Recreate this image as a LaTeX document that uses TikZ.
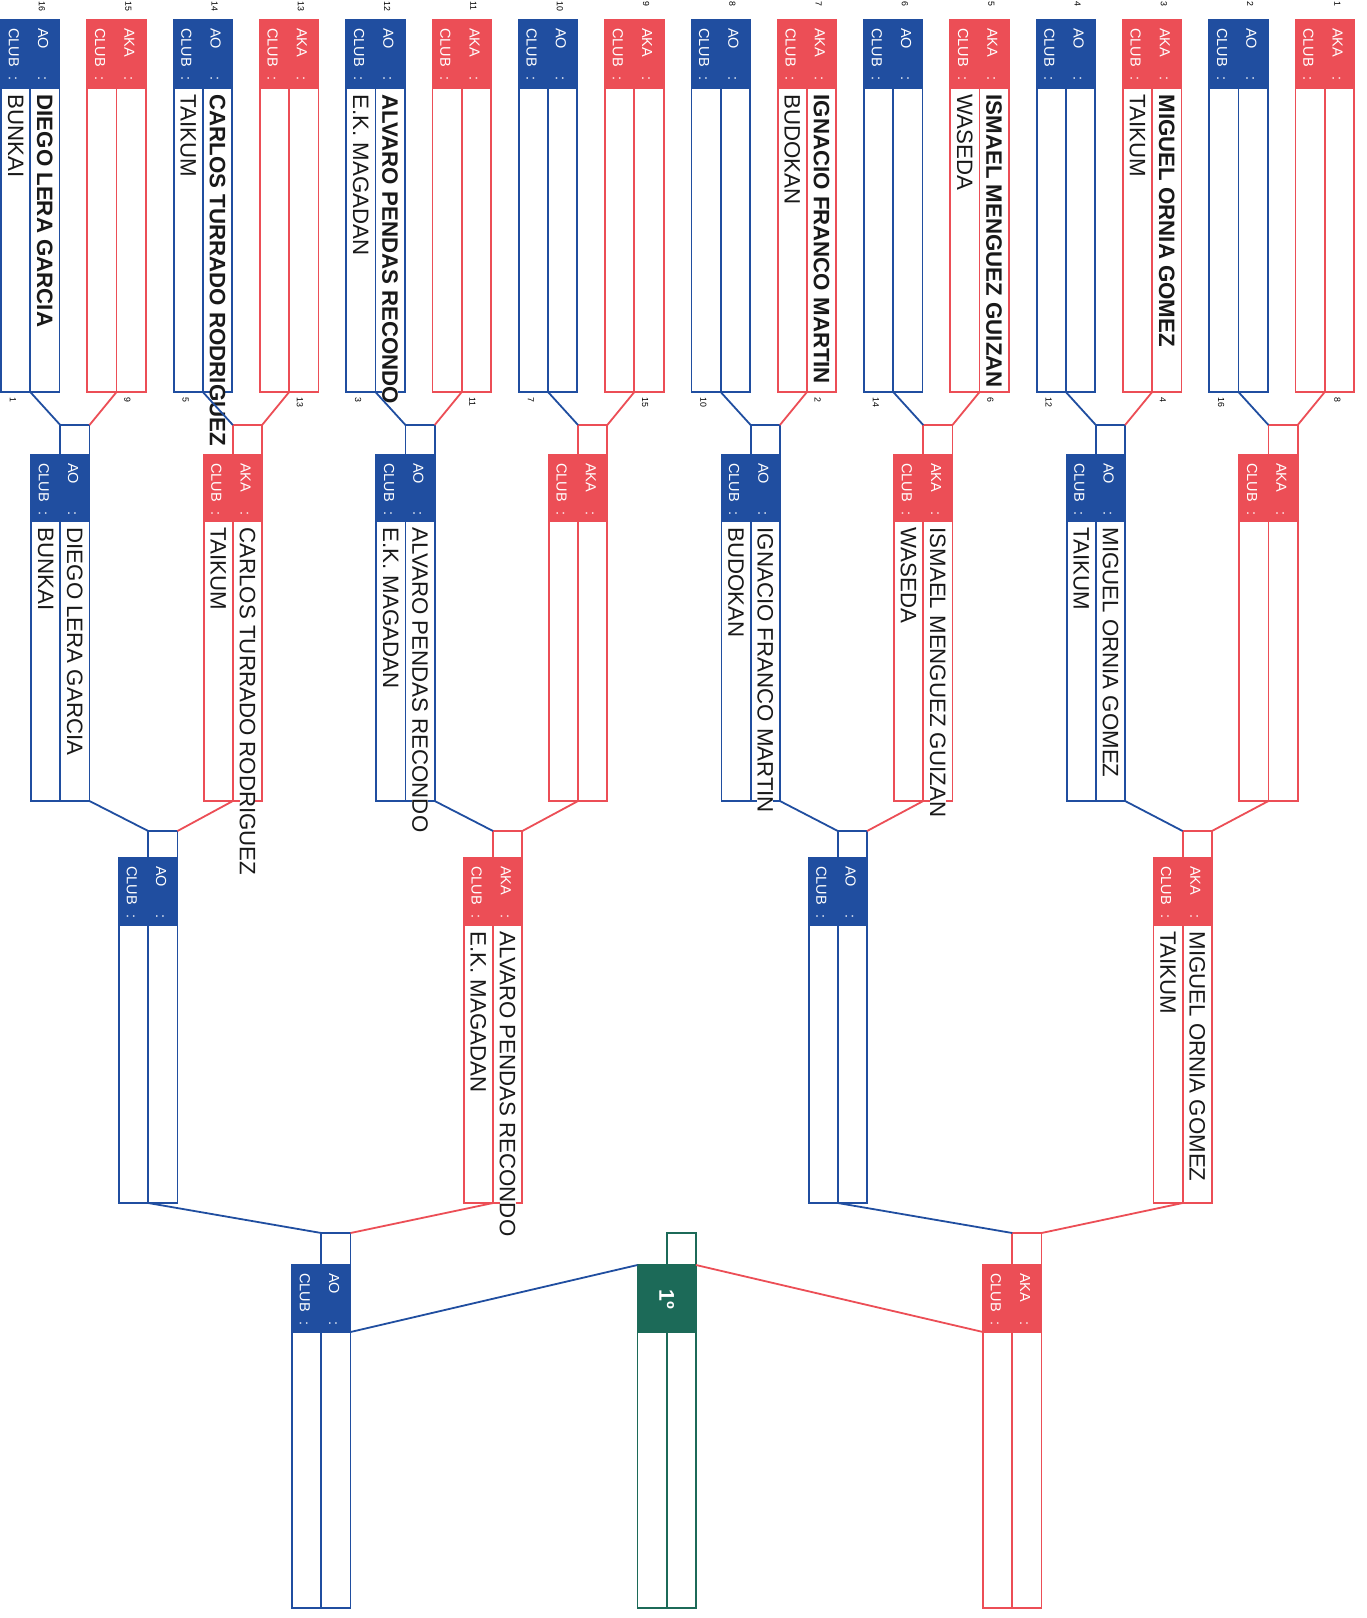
\documentclass[tikz,border=0pt]{standalone}
\usepackage{fontspec}
\setmainfont{Liberation Sans}
\definecolor{aoblue}{RGB}{32,78,160}
\definecolor{akared}{RGB}{236,78,86}
\definecolor{fingreen}{RGB}{28,106,88}
\newcommand\hdrword[1]{\hbox to 3.3em{#1\hfil}:}
\newcommand\setrow[4]{\def\brst{#1}\def\brht{#2}\def\brhb{#3}\def\brbt{#4}}
% #1 name, #2 left x, #3 colour, #4 header word, #5 fighter, #6 club, #7 name style
\newcommand\bx[7]{%
  \pgfmathsetmacro\bxa{#2}%
  \pgfmathsetmacro\bxb{#2+29.25}%
  \pgfmathsetmacro\bxc{#2+58.5}%
  \draw[boxline,#3] (\bxa,\brht) rectangle (\bxb,\brbt);
  \draw[boxline,#3] (\bxb,\brst) rectangle (\bxc,\brbt);
  \fill[#3] (\bxa,\brht) rectangle (\bxc,\brhb);
  \draw[boxline,#3] (\bxa,\brht) rectangle (\bxc,\brhb);
  \coordinate (#1-stl) at (\bxb,\brst);
  \coordinate (#1-str) at (\bxc,\brst);
  \coordinate (#1-bd) at (\bxb,\brbt);
  \coordinate (#1-br) at (\bxc,\brbt);
  \coordinate (#1-hl) at (\bxa,\brhb);
  \coordinate (#1-hr) at (\bxc,\brhb);
  \coordinate (#1-htl) at (\bxa,\brht);
  \coordinate (#1-htr) at (\bxc,\brht);
  \node[hdr,anchor=west] (#1-hn) at (\bxb+12.8,\brht+8) {\hdrword{#4}};
  \node[hdr,anchor=west] (#1-hc) at (\bxa+12.8,\brht+8) {\hdrword{CLUB}};
  \def\bxtmp{#5}\ifx\bxtmp\empty\else
    \node[nametext,#7,anchor=west] (#1-n) at (\bxb+14.6,\brhb+5) {#5};
    \node[nametext,anchor=west] (#1-c) at (\bxa+14.6,\brhb+5) {#6};
  \fi
}
\begin{document}
\begin{tikzpicture}[x=0.75pt,y=-0.75pt,
  boxline/.style={line width=1.35pt},
  hdr/.style={white,rotate=-90,inner sep=0pt,font=\fontsize{10.9}{12}\selectfont},
  nametext/.style={rotate=-90,inner xsep=1pt,inner ysep=0pt,fill=white,text=black!90,font=\fontsize{16.7}{18}\selectfont},
  boldname/.style={font=\fontsize{16.7}{18}\selectfont\bfseries},
  regname/.style={},
  numtext/.style={rotate=-90,inner sep=0pt,font=\fontsize{6.6}{7}\selectfont},
  bline/.style={aoblue,line width=1.35pt},
  rline/.style={akared,line width=1.35pt}]
\fill[white] (0,0) rectangle (1367,1618);
\useasboundingbox (0,0) rectangle (1367,1618);

% ---------- round 1 ----------
\setrow{20}{20}{88}{392}
\bx{a0}{1}{aoblue}{AO}{DIEGO LERA GARCIA}{BUNKAI}{boldname}
\bx{a1}{87.3}{akared}{AKA}{}{}{boldname}
\bx{a2}{173.6}{aoblue}{AO}{CARLOS TURRADO RODRIGUEZ}{TAIKUM}{boldname}
\bx{a3}{259.9}{akared}{AKA}{}{}{boldname}
\bx{a4}{346.2}{aoblue}{AO}{ALVARO PENDAS RECONDO}{E.K. MAGADAN}{boldname}
\bx{a5}{432.5}{akared}{AKA}{}{}{boldname}
\bx{a6}{518.8}{aoblue}{AO}{}{}{boldname}
\bx{a7}{605.1}{akared}{AKA}{}{}{boldname}
\bx{a8}{691.4}{aoblue}{AO}{}{}{boldname}
\bx{a9}{777.7}{akared}{AKA}{IGNACIO FRANCO MARTIN}{BUDOKAN}{boldname}
\bx{a10}{864}{aoblue}{AO}{}{}{boldname}
\bx{a11}{950.3}{akared}{AKA}{ISMAEL MENGUEZ GUIZAN}{WASEDA}{boldname}
\bx{a12}{1036.6}{aoblue}{AO}{}{}{boldname}
\bx{a13}{1122.9}{akared}{AKA}{MIGUEL ORNIA GOMEZ}{TAIKUM}{boldname}
\bx{a14}{1209.2}{aoblue}{AO}{}{}{boldname}
\bx{a15}{1295.5}{akared}{AKA}{}{}{boldname}

% seed numbers
\node[numtext,anchor=west] (t16) at (42,1) {16};
\node[numtext,anchor=west] (t15) at (128.3,1) {15};
\node[numtext,anchor=west] (t14) at (214.6,1) {14};
\node[numtext,anchor=west] (t13) at (300.9,1) {13};
\node[numtext,anchor=west] (t12) at (387.2,1) {12};
\node[numtext,anchor=west] (t11) at (473.5,1) {11};
\node[numtext,anchor=west] (t10) at (559.8,1) {10};
\node[numtext,anchor=west] (t9) at (646.1,1) {9};
\node[numtext,anchor=west] (t8) at (732.4,1) {8};
\node[numtext,anchor=west] (t7) at (818.7,1) {7};
\node[numtext,anchor=west] (t6) at (905,1) {6};
\node[numtext,anchor=west] (t5) at (991.3,1) {5};
\node[numtext,anchor=west] (t4) at (1077.6,1) {4};
\node[numtext,anchor=west] (t3) at (1163.9,1) {3};
\node[numtext,anchor=west] (t2) at (1250.2,1) {2};
\node[numtext,anchor=west] (t1) at (1337.5,1) {1};

\node[numtext,anchor=west] (b0) at (13,397) {1};
\node[numtext,anchor=west] (b1) at (127.3,397) {9};
\node[numtext,anchor=west] (b2) at (185.6,397) {5};
\node[numtext,anchor=west] (b3) at (299.9,397) {13};
\node[numtext,anchor=west] (b4) at (358.2,397) {3};
\node[numtext,anchor=west] (b5) at (472.5,397) {11};
\node[numtext,anchor=west] (b6) at (530.8,397) {7};
\node[numtext,anchor=west] (b7) at (645.1,397) {15};
\node[numtext,anchor=west] (b8) at (703.4,397) {10};
\node[numtext,anchor=west] (b9) at (817.7,397) {2};
\node[numtext,anchor=west] (b10) at (876,397) {14};
\node[numtext,anchor=west] (b11) at (990.3,397) {6};
\node[numtext,anchor=west] (b12) at (1048.6,397) {12};
\node[numtext,anchor=west] (b13) at (1162.9,397) {4};
\node[numtext,anchor=west] (b14) at (1221.2,397) {16};
\node[numtext,anchor=west] (b15) at (1337.5,397) {8};

% ---------- round 2 ----------
\setrow{425}{455}{521}{801}
\bx{b0}{31}{aoblue}{AO}{DIEGO LERA GARCIA}{BUNKAI}{regname}
\bx{b1}{203.6}{akared}{AKA}{CARLOS TURRADO RODRIGUEZ}{TAIKUM}{regname}
\bx{b2}{376.2}{aoblue}{AO}{ALVARO PENDAS RECONDO}{E.K. MAGADAN}{regname}
\bx{b3}{548.8}{akared}{AKA}{}{}{regname}
\bx{b4}{721.4}{aoblue}{AO}{IGNACIO FRANCO MARTIN}{BUDOKAN}{regname}
\bx{b5}{894}{akared}{AKA}{ISMAEL MENGUEZ GUIZAN}{WASEDA}{regname}
\bx{b6}{1066.6}{aoblue}{AO}{MIGUEL ORNIA GOMEZ}{TAIKUM}{regname}
\bx{b7}{1239.2}{akared}{AKA}{}{}{regname}

% ---------- round 3 ----------
\setrow{831}{858}{925}{1203}
\bx{c0}{119}{aoblue}{AO}{}{}{regname}
\bx{c1}{463.8}{akared}{AKA}{ALVARO PENDAS RECONDO}{E.K. MAGADAN}{regname}
\bx{c2}{808.6}{aoblue}{AO}{}{}{regname}
\bx{c3}{1153.4}{akared}{AKA}{MIGUEL ORNIA GOMEZ}{TAIKUM}{regname}

% ---------- semi-finals ----------
\setrow{1233}{1265}{1332}{1608}
\bx{d0}{292}{aoblue}{AO}{}{}{regname}
\bx{d1}{983}{akared}{AKA}{}{}{regname}

% ---------- final ----------
\draw[boxline,fingreen] (637.5,1265) rectangle (666.75,1608);
\draw[boxline,fingreen] (666.75,1233) rectangle (696,1608);
\fill[fingreen] (637.5,1265) rectangle (696,1332);
\draw[boxline,fingreen] (637.5,1265) rectangle (696,1332);
\coordinate (fin-htl) at (637.5,1265);
\coordinate (fin-htr) at (696,1265);
\node[rotate=-90,white,inner sep=0pt,font=\fontsize{16}{18}\selectfont\bfseries] (fin-h) at (666.75,1299) {1º};

% ---------- connectors ----------
\draw[bline] (a0-bd) -- (b0-stl);  \draw[rline] (a1-bd) -- (b0-str);
\draw[bline] (a2-bd) -- (b1-stl);  \draw[rline] (a3-bd) -- (b1-str);
\draw[bline] (a4-bd) -- (b2-stl);  \draw[rline] (a5-bd) -- (b2-str);
\draw[bline] (a6-bd) -- (b3-stl);  \draw[rline] (a7-bd) -- (b3-str);
\draw[bline] (a8-bd) -- (b4-stl);  \draw[rline] (a9-bd) -- (b4-str);
\draw[bline] (a10-bd) -- (b5-stl); \draw[rline] (a11-bd) -- (b5-str);
\draw[bline] (a12-bd) -- (b6-stl); \draw[rline] (a13-bd) -- (b6-str);
\draw[bline] (a14-bd) -- (b7-stl); \draw[rline] (a15-bd) -- (b7-str);

\draw[bline] (b0-br) -- (c0-stl); \draw[rline] (b1-bd) -- (c0-str);
\draw[bline] (b2-br) -- (c1-stl); \draw[rline] (b3-bd) -- (c1-str);
\draw[bline] (b4-br) -- (c2-stl); \draw[rline] (b5-bd) -- (c2-str);
\draw[bline] (b6-br) -- (c3-stl); \draw[rline] (b7-bd) -- (c3-str);

\draw[bline] (c0-bd) -- (d0-stl); \draw[rline] (c1-bd) -- (d0-str);
\draw[bline] (c2-bd) -- (d1-stl); \draw[rline] (c3-bd) -- (d1-str);

\draw[bline] (d0-hr) -- (fin-htl);
\draw[rline] (fin-htr) -- (d1-hl);
\end{tikzpicture}
\end{document}
